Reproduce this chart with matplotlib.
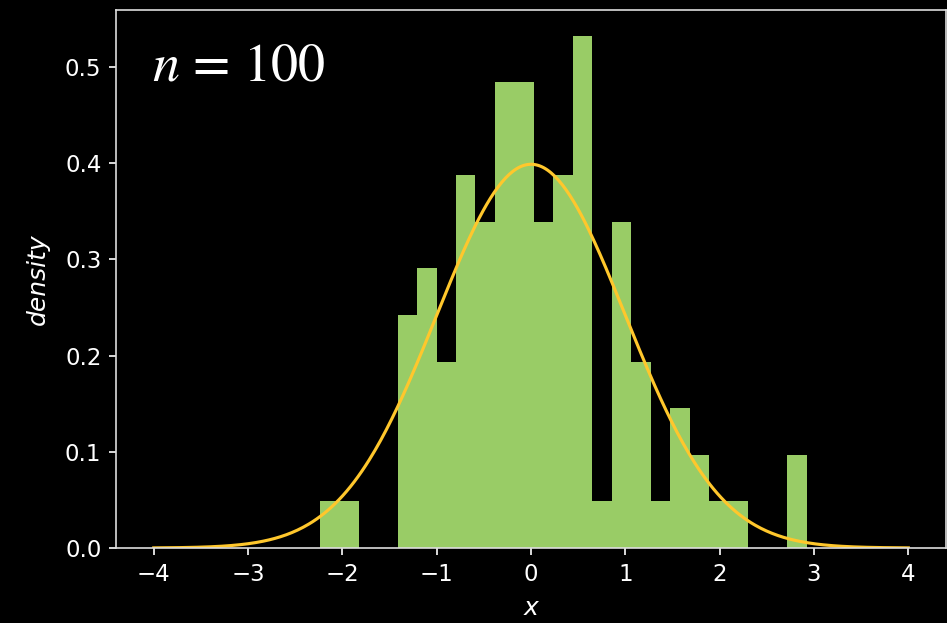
import numpy as np
import matplotlib.pyplot as plt

# histogram of n = 100 samples, 25 equal bins
n_samples = 100
bin_lo, bin_hi = -2.241, 2.921
counts = [1, 1, 0, 0, 5, 6, 4, 8, 7, 10, 10, 7, 8, 11, 1, 7, 4, 1, 3, 2, 1, 1, 0, 0, 2]

edges = np.linspace(bin_lo, bin_hi, len(counts) + 1)
centers = 0.5 * (edges[:-1] + edges[1:])

# standard normal density for reference
x = np.linspace(-4, 4, 400)
pdf = np.exp(-x**2 / 2) / np.sqrt(2 * np.pi)

plt.style.use('dark_background')
plt.rcParams['mathtext.fontset'] = 'stix'
plt.rcParams['xtick.labelsize'] = 11
plt.rcParams['ytick.labelsize'] = 11

fig = plt.figure(figsize=(947 / 150, 623 / 150), dpi=150)
ax = fig.add_axes([0.1225, 0.1204, 0.8765, 0.8636])

ax.hist(centers, bins=edges, weights=counts, density=True, color='#99cc66')
ax.plot(x, pdf, color='#ffc72c', lw=1.5)

ax.set_xlabel('x', style='italic', fontsize=12, labelpad=5)
ax.set_ylabel('density', style='italic', fontsize=12, labelpad=7)
ax.text(0.043, 0.868, f'$n$ = {n_samples}', transform=ax.transAxes, fontsize=26,
        family='STIXGeneral', color='white', va='baseline')

for s in ax.spines.values():
    s.set_color('#dddddd')

fig.savefig('out.png', dpi=150)
